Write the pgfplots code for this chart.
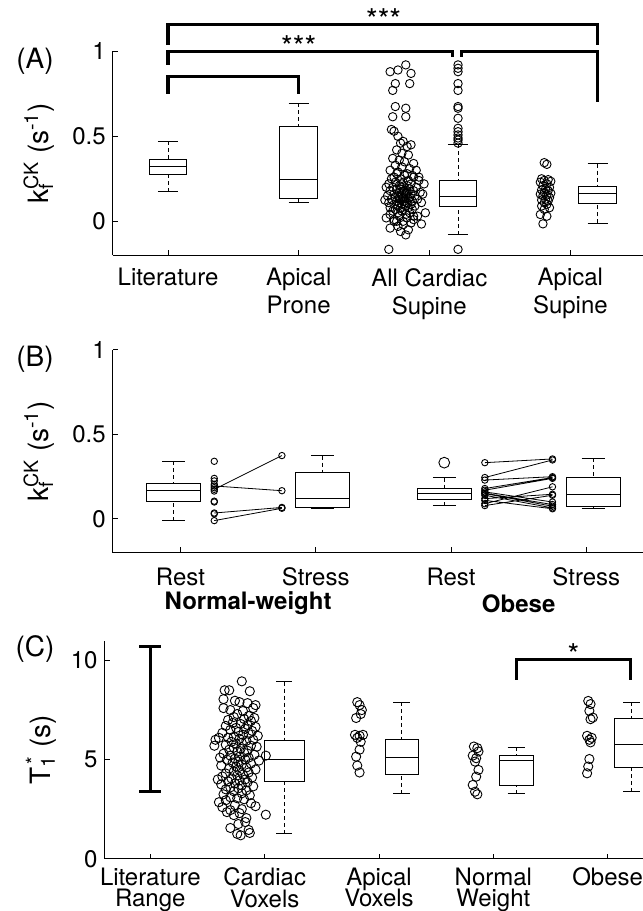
\documentclass[border=0pt]{standalone}
\usepackage{pgfplots}
\pgfplotsset{compat=1.18}
\usepgfplotslibrary{statistics}
\usepackage{fontspec}
\setmainfont{TeX Gyre Heros}
\newcommand{\fs}[2]{\fontsize{#1}{#2}\selectfont}

\pgfplotsset{
  mybox/.style={
    black, line width=0.5pt, solid, mark=none,
    boxplot/draw direction=y,
    boxplot/draw/lower whisker/.code={%
      \draw[black,line width=0.5pt,dash pattern=on 2pt off 1.5pt]
        (boxplot cs:\pgfplotsboxplotvalue{lower whisker}) -- (boxplot cs:\pgfplotsboxplotvalue{lower quartile});
      \draw[black,line width=0.5pt]
        (boxplot whisker cs:\pgfplotsboxplotvalue{lower whisker},0) -- (boxplot whisker cs:\pgfplotsboxplotvalue{lower whisker},1);
    },
    boxplot/draw/upper whisker/.code={%
      \draw[black,line width=0.5pt,dash pattern=on 2pt off 1.5pt]
        (boxplot cs:\pgfplotsboxplotvalue{upper whisker}) -- (boxplot cs:\pgfplotsboxplotvalue{upper quartile});
      \draw[black,line width=0.5pt]
        (boxplot whisker cs:\pgfplotsboxplotvalue{upper whisker},0) -- (boxplot whisker cs:\pgfplotsboxplotvalue{upper whisker},1);
    },
  },
  pts/.style={only marks, mark=o, mark size=#1, mark options={black, line width=0.45pt}},
  brk/.style={black, line width=1.6pt, line join=miter, mark=none},
  panel/.style={
    scale only axis, anchor=south west, clip=false,
    axis x line*=bottom, axis y line*=left,
    axis line style={black, line width=0.5pt},
    every tick/.style={black, line width=0.5pt},
    tick align=inside, major tick length=2.6pt,
    /pgf/number format/assume math mode=true,
    yticklabel style={font=\fs{12}{14}},
    xticklabel style={font={\fs{12}{14}\lineskiplimit=-20pt}, align=center, yshift=-3pt},
  },
}

\begin{document}
\begin{tikzpicture}
\useasboundingbox (0,0) rectangle (321.5pt,455.5pt);

% ---------------- Panel A ----------------
\begin{axis}[panel,
  at={(56.4pt,327.85pt)}, width=265.1pt, height=102pt,
  xmin=0.577, xmax=4.636, ymin=-0.2, ymax=1,
  xtick={1,2,3,4.08},
  xticklabels={{Literature},{Apical\\Prone},{All Cardiac\\Supine},{Apical\\Supine}},
  ytick={0,0.5,1},
  ylabel={k\rlap{\textsubscript{f}}\textsuperscript{CK} (s\textsuperscript{-1})},
  every axis y label/.style={at={(axis description cs:-0.139,0.5)}, rotate=90, anchor=center, font=\fs{14}{16}},
]
\addplot+[mybox, boxplot prepared={draw position=1, lower whisker=0.173, lower quartile=0.278, median=0.32, upper quartile=0.365, upper whisker=0.47, box extend=0.29, whisker extend=0.155}] coordinates {};
\addplot+[mybox, boxplot prepared={draw position=2, lower whisker=0.112, lower quartile=0.137, median=0.247, upper quartile=0.557, upper whisker=0.694, box extend=0.29, whisker extend=0.155}] coordinates {};
\addplot+[mybox, boxplot prepared={draw position=3.22, lower whisker=-0.08, lower quartile=0.088, median=0.145, upper quartile=0.241, upper whisker=0.453, box extend=0.29, whisker extend=0.155}] coordinates {};
\addplot+[mybox, boxplot prepared={draw position=4.29, lower whisker=-0.012, lower quartile=0.104, median=0.163, upper quartile=0.206, upper whisker=0.339, box extend=0.29, whisker extend=0.155}] coordinates {};
% outliers of All Cardiac box
\addplot[pts=2.1pt] coordinates {(3.22,0.92) (3.22,0.90) (3.22,0.88) (3.22,0.81) (3.22,0.77) (3.22,0.675) (3.22,0.665) (3.22,0.606) (3.22,0.547) (3.22,0.527) (3.22,0.508) (3.22,0.49) (3.22,0.478) (3.22,0.46) (3.22,-0.165)};
% All cardiac scatter
\addplot[pts=2.1pt] coordinates {
(2.82,0.92) (2.76,0.89) (2.86,0.87) (2.70,0.88) (2.85,0.81) (2.74,0.81) (2.72,0.77) (2.74,0.675) (2.82,0.665) (2.72,0.615) (2.82,0.615) (2.71,0.54) (2.73,0.53) (2.76,0.50) (2.80,0.47) (2.86,0.45) (2.78,0.46) (2.83,0.44) (2.75,0.42) (2.79,0.40) (2.84,0.39) (2.72,0.37) (2.77,0.36) (2.81,0.35) (2.88,0.34) (2.74,0.33) (2.79,0.32) (2.85,0.31) (2.90,0.30) (2.70,0.30) (2.76,0.29) (2.83,0.28) (2.87,0.27) (2.92,0.26) (2.73,0.26)
(2.75,0.28) (2.81,0.27) (2.88,0.26) (2.71,0.25) (2.78,0.25) (2.84,0.24) (2.92,0.24) (2.74,0.23) (2.80,0.23) (2.86,0.22) (2.69,0.22) (2.77,0.21) (2.83,0.21) (2.90,0.20) (2.72,0.20) (2.79,0.20) (2.85,0.19) (2.75,0.19) (2.81,0.18) (2.88,0.18) (2.70,0.18) (2.77,0.17) (2.83,0.17) (2.93,0.17) (2.73,0.16) (2.79,0.16) (2.86,0.16) (2.68,0.15) (2.76,0.15) (2.82,0.15) (2.89,0.15) (2.74,0.14) (2.80,0.14) (2.85,0.14) (2.71,0.13) (2.78,0.13) (2.84,0.13) (2.91,0.13) (2.75,0.12) (2.81,0.12) (2.87,0.12) (2.69,0.11) (2.77,0.11) (2.83,0.11) (2.94,0.11) (2.73,0.10) (2.79,0.10) (2.86,0.10) (2.76,0.09) (2.82,0.09) (2.89,0.09) (2.70,0.08) (2.78,0.08) (2.84,0.08) (2.74,0.07) (2.80,0.07) (2.87,0.07) (2.72,0.06) (2.79,0.06) (2.85,0.05) (2.76,0.05) (2.82,0.04) (2.70,0.04) (2.88,0.03) (2.77,0.03) (2.83,0.02) (2.73,0.01) (2.80,0.0) (2.86,-0.01) (2.75,0.0) (2.97,0.05) (2.66,0.125) (2.95,0.16) (2.96,0.22) (2.67,0.20) (2.78,0.19) (2.82,0.16) (2.80,0.13) (2.79,0.22) (2.81,0.10) (2.77,0.14) (2.83,0.18)
(2.69,-0.165) (2.94,-0.016) (2.82,-0.08) (2.70,-0.04) (2.67,0.02) (2.78,-0.06) (2.84,-0.05) (2.76,-0.03) (2.80,-0.02) (2.73,0.0) (2.88,0.01) (2.91,0.03)};
% Apical supine scatter
\addplot[pts=2.1pt] coordinates {
(3.88,0.345) (3.90,0.335) (3.86,0.25) (3.91,0.245) (3.88,0.24) (3.93,0.235) (3.85,0.23) (3.90,0.22) (3.87,0.21) (3.92,0.2) (3.89,0.19) (3.86,0.185) (3.91,0.18) (3.88,0.17) (3.93,0.165) (3.85,0.16) (3.90,0.155) (3.87,0.15) (3.92,0.14) (3.89,0.13) (3.86,0.125) (3.91,0.12) (3.88,0.11) (3.90,0.10) (3.86,0.09) (3.92,0.08) (3.88,0.07) (3.85,0.04) (3.90,0.03) (3.87,-0.015)};
% significance brackets
\addplot[brk] coordinates {(1,0.749) (1,0.851) (2,0.851) (2,0.749)};
\addplot[brk] coordinates {(1,0.92) (1,1.0) (3.18,1.0) (3.18,0.969)};
\addplot[brk] coordinates {(3.245,0.969) (3.245,1.0) (4.288,1.0) (4.288,0.704)};
\addplot[brk] coordinates {(1,1.037) (1,1.159) (4.288,1.159) (4.288,1.037)};
\node[font=\fs{15}{15}] at (axis cs:2.0,1.025) {***};
\node[font=\fs{15}{15}] at (axis cs:2.65,1.185) {***};
\end{axis}
\node[font=\fs{14}{16}] at (17.5pt,425pt) {(A)};

% ---------------- Panel B ----------------
\begin{axis}[panel,
  at={(56.4pt,179.15pt)}, width=265.1pt, height=101.35pt,
  xmin=0.5, xmax=4.419, ymin=-0.2, ymax=1,
  xtick={1,2,3,4},
  xticklabels={Rest,Stress,Rest,Stress},
  xticklabel style={yshift=-1pt},
  ytick={0,0.5,1},
  ylabel={k\rlap{\textsubscript{f}}\textsuperscript{CK} (s\textsuperscript{-1})},
  every axis y label/.style={at={(axis description cs:-0.139,0.5)}, rotate=90, anchor=center, font=\fs{14}{16}},
]
\addplot+[mybox, boxplot prepared={draw position=0.95, lower whisker=-0.01, lower quartile=0.101, median=0.170, upper quartile=0.211, upper whisker=0.341, box extend=0.4, whisker extend=0.17}] coordinates {};
\addplot+[mybox, boxplot prepared={draw position=2.05, lower whisker=0.063, lower quartile=0.067, median=0.120, upper quartile=0.272, upper whisker=0.375, box extend=0.4, whisker extend=0.17}] coordinates {};
\addplot+[mybox, boxplot prepared={draw position=2.95, lower whisker=0.079, lower quartile=0.112, median=0.152, upper quartile=0.178, upper whisker=0.245, box extend=0.4, whisker extend=0.17}] coordinates {};
\addplot+[mybox, boxplot prepared={draw position=4.05, lower whisker=0.061, lower quartile=0.075, median=0.146, upper quartile=0.247, upper whisker=0.359, box extend=0.4, whisker extend=0.17}] coordinates {};
\addplot[pts=2.7pt] coordinates {(2.95,0.333)};
% normal-weight rest points (unpaired)
\addplot[pts=1.6pt] coordinates {(1.25,0.341) (1.25,0.24) (1.25,0.225) (1.25,0.205) (1.25,0.185) (1.25,0.165) (1.25,0.105) (1.25,0.10) (1.25,0.03)};
% normal-weight paired
\addplot[black, line width=0.4pt, mark=o, mark size=1.6pt, mark options={line width=0.45pt}, unbounded coords=jump] coordinates {
(1.25,0.175) (1.75,0.375) (1.5,nan)
(1.25,0.195) (1.75,0.167) (1.5,nan)
(1.25,0.035) (1.75,0.068) (1.5,nan)
(1.25,-0.01) (1.75,0.063)};
% obese paired
\addplot[black, line width=0.4pt, mark=o, mark size=1.6pt, mark options={line width=0.45pt}, unbounded coords=jump] coordinates {
(3.25,0.333) (3.75,0.355) (3.5,nan)
(3.25,0.245) (3.75,0.349) (3.5,nan)
(3.25,0.23) (3.75,0.25) (3.5,nan)
(3.25,0.18) (3.75,0.245) (3.5,nan)
(3.25,0.17) (3.75,0.24) (3.5,nan)
(3.25,0.16) (3.75,0.10) (3.5,nan)
(3.25,0.152) (3.75,0.085) (3.5,nan)
(3.25,0.15) (3.75,0.075) (3.5,nan)
(3.25,0.14) (3.75,0.065) (3.5,nan)
(3.25,0.12) (3.75,0.146) (3.5,nan)
(3.25,0.11) (3.75,0.06) (3.5,nan)
(3.25,0.09) (3.75,0.19) (3.5,nan)
(3.25,0.079) (3.75,0.14)};
\node[font=\bfseries\fs{12}{14}] at (axis cs:1.5,-0.2) [yshift=-25.3pt] {Normal-weight};
\node[font=\bfseries\fs{12}{14}] at (axis cs:3.5,-0.2) [yshift=-25.3pt] {Obese};
\end{axis}
\node[font=\fs{14}{16}] at (17.5pt,276pt) {(B)};

% ---------------- Panel C ----------------
\begin{axis}[panel,
  at={(52.3pt,26.15pt)}, width=269.2pt, height=109pt,
  xmin=0.6, xmax=5.309, ymin=0, ymax=11,
  xtick={1,2,3,4,5},
  xticklabels={{Literature\\Range},{Cardiac\\Voxels},{Apical\\Voxels},{Normal\\Weight},{Obese}},
  xticklabel style={font={\fs{12}{10.8}\lineskiplimit=-20pt}, yshift=2pt},
  ytick={0,5,10},
  ylabel={T\rlap{\textsubscript{1}}\textsuperscript{\,*} (s)},
  every axis y label/.style={at={(axis description cs:-0.118,0.5)}, rotate=90, anchor=center, font=\fs{14}{16}},
]
% literature range
\addplot[brk] coordinates {(1,3.38) (1,10.7)};
\addplot[brk] coordinates {(0.905,10.7) (1.095,10.7)};
\addplot[brk] coordinates {(0.905,3.38) (1.095,3.38)};
% boxes
\addplot+[mybox, boxplot prepared={draw position=2.17, lower whisker=1.25, lower quartile=3.89, median=5.0, upper quartile=5.96, upper whisker=8.94, box extend=0.35, whisker extend=0.14}] coordinates {};
\addplot+[mybox, boxplot prepared={draw position=3.2, lower whisker=3.28, lower quartile=4.26, median=5.1, upper quartile=6.03, upper whisker=7.9, box extend=0.29, whisker extend=0.15}] coordinates {};
\addplot+[mybox, boxplot prepared={draw position=4.2, lower whisker=3.28, lower quartile=3.69, median=4.95, upper quartile=5.2, upper whisker=5.62, box extend=0.3, whisker extend=0.15}] coordinates {};
\addplot+[mybox, boxplot prepared={draw position=5.21, lower whisker=3.38, lower quartile=4.61, median=5.76, upper quartile=7.09, upper whisker=7.9, box extend=0.3, whisker extend=0.15}] coordinates {};
% cardiac voxels scatter
\addplot[pts=2.3pt] coordinates {
(1.80,8.95) (1.65,8.5) (1.69,8.5) (1.87,8.45) (1.64,8.05) (1.74,7.97) (1.78,7.9) (1.85,7.85) (1.64,7.6) (1.90,7.6) (1.92,7.75) (1.70,7.5) (1.81,7.45) (1.76,7.3) (1.86,7.2) (1.73,7.15) (1.91,7.1) (1.68,7.0) (1.82,7.05) (1.88,6.95)
(1.72,6.85) (1.79,6.8) (1.85,6.75) (1.66,6.7) (1.92,6.65) (1.75,6.6) (1.83,6.55) (1.70,6.5) (1.89,6.45) (1.77,6.4) (1.63,6.35) (1.86,6.3) (1.81,6.25) (1.94,6.2) (1.73,6.15) (1.68,6.1) (1.78,6.05) (1.90,6.0) (1.57,6.0) (1.60,6.1)
(1.56,5.7) (1.84,5.95) (1.71,5.9) (1.80,5.85) (1.75,5.8) (1.66,5.75) (1.88,5.7) (1.93,5.65) (1.73,5.6) (1.79,5.55) (1.69,5.5) (1.85,5.45) (1.76,5.4) (1.82,5.35) (1.64,5.3) (1.91,5.25) (2.01,5.2) (1.70,5.2) (1.78,5.15) (1.61,5.1) (1.86,5.1) (1.74,5.05) (1.83,5.0) (1.67,5.0) (1.95,4.95)
(1.77,4.9) (1.72,4.85) (1.88,4.8) (1.80,4.75) (1.62,4.7) (1.75,4.65) (1.84,4.6) (1.69,4.55) (1.92,4.5) (1.78,4.45) (1.73,4.4) (1.86,4.35) (1.66,4.3) (1.81,4.25) (1.76,4.2) (1.63,4.15) (1.89,4.1) (1.71,4.05) (1.83,4.0) (1.59,4.0)
(1.78,3.95) (1.68,3.9) (1.85,3.85) (1.74,3.8) (1.62,3.75) (1.80,3.7) (1.90,3.65) (1.70,3.6) (1.77,3.55) (1.66,3.5) (1.84,3.45) (1.73,3.4) (1.80,3.3) (1.64,3.25) (1.87,3.2) (1.70,3.1) (1.76,3.05) (1.82,3.0)
(1.66,2.95) (1.60,2.85) (1.88,2.8) (1.74,2.7) (1.92,2.65) (1.63,2.6) (1.80,2.5) (1.70,2.45) (1.67,2.35) (1.78,2.3) (2.01,2.22) (1.73,2.2) (1.84,2.05)
(1.83,1.85) (1.77,1.75) (1.70,1.55) (1.86,1.45) (1.87,1.3) (1.79,1.18) (1.76,1.25)};
% apical voxels
\addplot[pts=2.3pt] coordinates {(2.81,7.9) (2.83,7.75) (2.85,7.5) (2.84,7.3) (2.80,7.1) (2.79,6.25) (2.83,6.2) (2.86,6.25) (2.81,6.1) (2.84,5.9) (2.83,5.5) (2.80,5.15) (2.81,4.7) (2.83,4.35)};
% normal weight
\addplot[pts=2.3pt] coordinates {(3.83,5.66) (3.86,5.58) (3.87,5.41) (3.82,5.2) (3.85,5.07) (3.84,4.9) (3.87,4.48) (3.85,4.14) (3.82,3.72) (3.84,3.38) (3.86,3.25)};
% obese
\addplot[pts=2.3pt] coordinates {(4.83,7.96) (4.85,7.8) (4.84,7.46) (4.87,7.12) (4.85,7.04) (4.82,6.2) (4.86,6.1) (4.84,6.0) (4.85,5.87) (4.84,5.03) (4.83,4.65) (4.82,4.31)};
% bracket
\addplot[brk] coordinates {(4.2,9.03) (4.2,10.04) (5.2,10.04) (5.2,9.03)};
\node[font=\fs{15}{15}] at (axis cs:4.7,10.3) {*};
\end{axis}
\node[font=\fs{14}{16}] at (17.5pt,131pt) {(C)};
\end{tikzpicture}
\end{document}
